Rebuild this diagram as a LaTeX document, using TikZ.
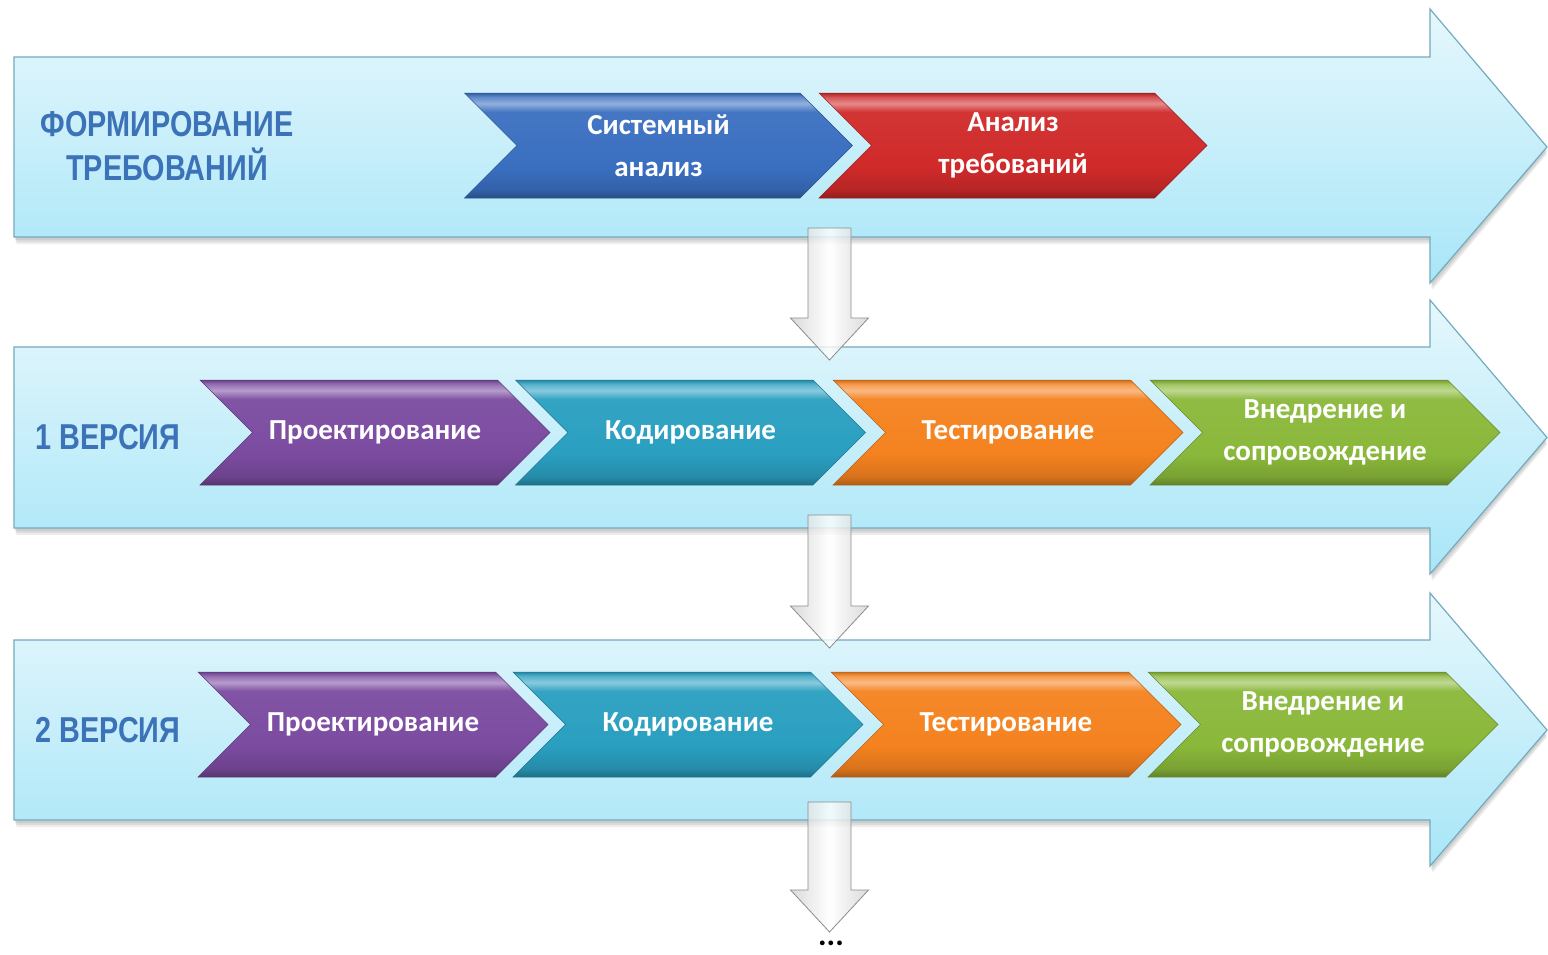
\documentclass[tikz,border=0pt]{standalone}
\usepackage{fontspec}
\setmainfont{Carlito}
\newfontfamily\labelfont[FakeStretch=0.8]{Liberation Sans}
\usetikzlibrary{shapes.symbols,calc}

\definecolor{bandtop}{HTML}{E6F7FC}
\definecolor{bandbot}{HTML}{A8E6F8}
\definecolor{bandline}{HTML}{72ABBE}
\definecolor{labelblue}{HTML}{3C72B8}
\definecolor{cblue}{HTML}{3A6FC0}
\definecolor{cred}{HTML}{D02A2A}
\definecolor{cpurple}{HTML}{7B4BA0}
\definecolor{cteal}{HTML}{2A9FC0}
\definecolor{corange}{HTML}{F5821F}
\definecolor{cgreen}{HTML}{8AB83A}
\colorlet{cbase}{cblue}

% vertical bevel shading of the coloured steps
\pgfdeclareverticalshading[cbase]{bevel}{100bp}{%
  color(0bp)=(cbase!70!black);
  color(25bp)=(cbase!70!black);
  color(29bp)=(cbase!88!black);
  color(40bp)=(cbase);
  color(66bp)=(cbase!95!white);
  color(70bp)=(cbase!55!white);
  color(73bp)=(cbase!80!white);
  color(75bp)=(cbase!85!black);
  color(100bp)=(cbase!85!black)}

\tikzset{
  stepbox/.style={signal, signal from=west, signal to=east,
    signal pointer angle=90, minimum height=105pt, minimum width=350pt,
    inner sep=0pt, text=white, align=center,
    font=\bfseries\fontsize{29}{42}\selectfont,
    /utils/exec={\colorlet{cbase}{#1}}, shading=bevel,
    draw=#1!75!black, line width=0.5pt},
  wide/.style={minimum width=388pt},
  band/.style={top color=bandtop, bottom color=bandbot, draw=bandline, line width=1.2pt},
  bandshadow/.style={fill=black, opacity=0.07},
  downarrow/.style={left color=black!18, right color=black!18, middle color=white,
    draw=black!45, line width=0.8pt, fill opacity=0.8},
  rowlabel/.style={text=labelblue, align=center,
    font=\labelfont\bfseries\fontsize{36}{44}\selectfont}
}

% one wide band arrow: name, body top, body bottom, head top, head bottom
\newcommand\bandarrow[5]{%
  \foreach \s in {3,5,7}{
    \path[bandshadow] (14+\s/3,-#2-\s) -- (1430+\s/3,-#2-\s) -- (1430+\s/3,-#4-\s)
      -- (1547,{-(#2+#3)/2-\s}) -- (1430+\s/3,-#5-\s) -- (1430+\s/3,-#3-\s)
      -- (14+\s/3,-#3-\s) -- cycle;}
  \path[band] (14,-#2) -- (1430,-#2) -- (1430,-#4) -- (1547,{-(#2+#3)/2})
    -- (1430,-#5) -- (1430,-#3) -- (14,-#3) -- cycle;
  \coordinate (#1-bottom) at (829.5,-#3);
  \coordinate (#1-top) at (829.5,-#2);
}

% fat downward arrow from a point to a tip
\newcommand\fatdown[2]{%
  \path[downarrow] ($(#1)+(-21.5,0)$) -- ($(#1)+(21.5,0)$)
    -- ($(#2)+(21.5,42)$) -- ($(#2)+(39,42)$) -- (#2)
    -- ($(#2)+(-39,42)$) -- ($(#2)+(-21.5,42)$) -- cycle;
}

\begin{document}
\begin{tikzpicture}[x=1pt,y=1pt]
\useasboundingbox (0,0) rectangle (1548,-954);

% bands
\bandarrow{band1}{57}{237}{9}{283}
\bandarrow{band2}{347}{528}{300}{574}
\bandarrow{band3}{640}{820}{593}{866}

% row labels
\node[rowlabel] (lab1) at (167,-146) {ФОРМИРОВАНИЕ\\ТРЕБОВАНИЙ};
\node[rowlabel] (lab2) at (108,-437) {1 ВЕРСИЯ};
\node[rowlabel] (lab3) at (108,-730) {2 ВЕРСИЯ};

% requirements stage
\node[stepbox=cblue, wide] (s1) at (658.5,-145.5) {Системный\\анализ};
\node[stepbox=cred, wide] (s2) at (1013,-145.5) {Анализ\\требований};

% first version
\node[stepbox=cpurple] (a1) at (375,-432.5) {Проектирование};
\node[stepbox=cteal] (a2) at (690.5,-432.5) {Кодирование};
\node[stepbox=corange] (a3) at (1008,-432.5) {Тестирование};
\node[stepbox=cgreen] (a4) at (1325,-432.5) {Внедрение и\\сопровождение};

% second version
\node[stepbox=cpurple] (b1) at (373,-724.5) {Проектирование};
\node[stepbox=cteal] (b2) at (688,-724.5) {Кодирование};
\node[stepbox=corange] (b3) at (1006,-724.5) {Тестирование};
\node[stepbox=cgreen] (b4) at (1323,-724.5) {Внедрение и\\сопровождение};

% transitions between stages
\coordinate (d1s) at ($(band1-bottom)+(0,9)$);
\coordinate (d1e) at (829.5,-360);
\coordinate (d2s) at ($(band2-bottom)+(0,13)$);
\coordinate (d2e) at (829.5,-648);
\coordinate (d3s) at ($(band3-bottom)+(0,18)$);
\coordinate (d3e) at (829.5,-932);
\fatdown{d1s}{d1e}
\fatdown{d2s}{d2e}
\fatdown{d3s}{d3e}

\node[font=\bfseries\fontsize{32}{32}\selectfont, inner sep=0pt, anchor=base] (more) at (831,-945) {...};
\end{tikzpicture}
\end{document}
